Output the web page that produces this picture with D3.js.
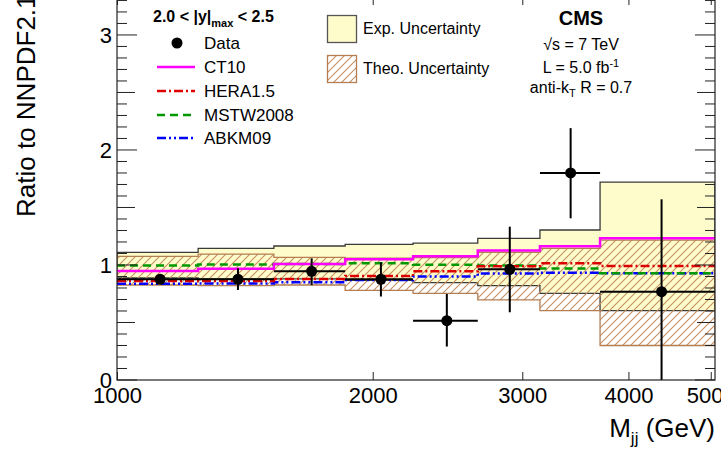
<!DOCTYPE html>
<html>
<head>
<meta charset="utf-8">
<script src="https://cdn.jsdelivr.net/npm/d3@7"></script>
<style>
  body { margin: 0; background: #fff; }
  svg { display: block; font-family: "Liberation Sans", Arial, Helvetica, sans-serif; }
</style>
</head>
<body>
<svg id="chart" width="721" height="454"></svg>
<script>
// ---------------- data ----------------
const binEdges = [1000, 1246, 1530, 1856, 2231, 2659, 3147, 3704, 5058];
const expUp    = [1.110, 1.145, 1.165, 1.180, 1.190, 1.232, 1.304, 1.720];
const expLow   = [0.887, 0.880, 0.880, 0.867, 0.846, 0.820, 0.754, 0.603];
const theoUp   = [1.075, 1.095, 1.067, 1.060, 1.065, 1.110, 1.145, 1.217];
const theoLow  = [0.826, 0.820, 0.826, 0.780, 0.754, 0.696, 0.603, 0.300];
const ct10     = [0.948, 0.968, 1.008, 1.050, 1.075, 1.125, 1.163, 1.232];
const hera15   = [0.861, 0.861, 0.878, 0.904, 0.945, 0.990, 1.015, 0.991];
const mstw2008 = [0.995, 1.005, 1.008, 1.015, 1.003, 0.995, 0.970, 0.928];
const abkm09   = [0.836, 0.840, 0.850, 0.870, 0.900, 0.925, 0.933, 0.928];
const dataX    = [1124, 1388, 1695, 2045, 2445, 2900, 3420, 4376];
const dataY    = [0.876, 0.876, 0.945, 0.876, 0.516, 0.962, 1.800, 0.768];
const dataErrLo= [0.035, 0.093, 0.120, 0.150, 0.225, 0.373, 0.394, 0.800];
const dataErrHi= [0.035, 0.095, 0.113, 0.147, 0.232, 0.371, 0.390, 0.803];
const xTickVals = [1000, 2000, 3000, 4000, 5000];
const yTickVals = [0, 1, 2, 3];

// ---------------- layout ----------------
const L = 117, R = 715, T = -3, B = 380;
const svg = d3.select("#chart");
const x = d3.scaleLog().domain([1000, 5058]).range([L, R]);
const y = d3.scaleLinear().domain([0, 3.33]).range([B, T]);

const defs = svg.append("defs");
defs.append("clipPath").attr("id", "plotclip")
  .append("rect").attr("x", L).attr("y", T).attr("width", R - L).attr("height", B - T);
const pat = defs.append("pattern").attr("id", "hatch")
  .attr("patternUnits", "userSpaceOnUse").attr("width", 8).attr("height", 8);
pat.append("path").attr("d", "M0,8 L8,0 M-2,2 L2,-2 M6,10 L10,6")
  .attr("stroke", "#c48f62").attr("stroke-width", 1.1);

const hatchStroke = "#b47e52";
const yellow = "#fffccc";

const plot = svg.append("g").attr("clip-path", "url(#plotclip)");

// step helpers
const stepPts = arr => arr.map((v, i) => ({e: binEdges[i], v})).concat([{e: binEdges[binEdges.length - 1], v: arr[arr.length - 1]}]);
const bandPts = (lo, hi) => lo.map((v, i) => ({e: binEdges[i], lo: v, hi: hi[i]}))
  .concat([{e: binEdges[binEdges.length - 1], lo: lo[lo.length - 1], hi: hi[hi.length - 1]}]);

const area = d3.area().x(d => x(d.e)).y0(d => y(d.lo)).y1(d => y(d.hi)).curve(d3.curveStepAfter);
const line = d3.line().x(d => x(d.e)).y(d => y(d.v)).curve(d3.curveStepAfter);

// Exp uncertainty band
plot.append("path").attr("d", area(bandPts(expLow, expUp)) + "Z")
  .attr("fill", yellow).attr("stroke", "#3a3a3a").attr("stroke-width", 1.3);
// Theo uncertainty band
plot.append("path").attr("d", area(bandPts(theoLow, theoUp)) + "Z")
  .attr("fill", "url(#hatch)").attr("stroke", hatchStroke).attr("stroke-width", 1.3);

// theory lines
const series = [
  {name: "CT10",     vals: ct10,     color: "#ff00ff", dash: null},
  {name: "HERA1.5",  vals: hera15,   color: "#dd0000", dash: "9,3,2,3"},
  {name: "MSTW2008", vals: mstw2008, color: "#009900", dash: "8,5"},
  {name: "ABKM09",   vals: abkm09,   color: "#0000ff", dash: "9,3,2,3,2,3"}
];
series.slice().reverse().forEach(s => {
  plot.append("path").attr("d", line(stepPts(s.vals)))
    .attr("fill", "none").attr("stroke", s.color).attr("stroke-width", 2.5)
    .attr("stroke-dasharray", s.dash);
});

// data points
const dg = plot.append("g");
dataX.forEach((xv, i) => {
  dg.append("line").attr("x1", x(binEdges[i])).attr("x2", x(binEdges[i + 1]))
    .attr("y1", y(dataY[i])).attr("y2", y(dataY[i]))
    .attr("stroke", "#000").attr("stroke-width", 2);
  dg.append("line").attr("x1", x(xv)).attr("x2", x(xv))
    .attr("y1", y(dataY[i] - dataErrLo[i])).attr("y2", y(dataY[i] + dataErrHi[i]))
    .attr("stroke", "#000").attr("stroke-width", 2);
  dg.append("circle").attr("cx", x(xv)).attr("cy", y(dataY[i])).attr("r", 5.5).attr("fill", "#000");
});

// ---------------- axes ----------------
const minorY = d3.range(0, 34).map(i => i / 10).filter(v => v <= 3.33);
const halfY = minorY.filter(v => Math.abs(v * 2 - Math.round(v * 2)) < 1e-6 && Math.abs(v - Math.round(v)) > 1e-6);
const tertY = minorY.filter(v => Math.abs(v * 2 - Math.round(v * 2)) > 1e-6);

function yTicks(g, xpos, dir) {
  const tick = (vals, len) => vals.forEach(v => {
    g.append("line").attr("x1", xpos).attr("x2", xpos + dir * len)
      .attr("y1", y(v)).attr("y2", y(v)).attr("stroke", "#222").attr("stroke-width", 1);
  });
  tick(yTickVals, 20); tick(halfY, 18); tick(tertY, 10);
}
const axg = svg.append("g");
yTicks(axg, L, 1);
yTicks(axg, R, -1);

// y labels via d3 axis
const yAxis = d3.axisLeft(y).tickValues(yTickVals).tickSize(0).tickPadding(5).tickFormat(d3.format("d"));
const yg = svg.append("g").attr("transform", `translate(${L},0)`).call(yAxis);
yg.select(".domain").remove();
yg.selectAll("text").attr("font-size", 22).attr("font-family", "Liberation Sans, Arial, sans-serif").attr("fill", "#000");

// x axis
const xAxis = d3.axisBottom(x).tickValues(xTickVals).tickSize(-8).tickPadding(7.5).tickFormat(d3.format("d"));
const xg = svg.append("g").attr("transform", `translate(0,${B})`).call(xAxis);
xg.select(".domain").remove();
xg.selectAll("line").attr("stroke", "#222");
xg.selectAll("text").attr("font-size", 22).attr("font-family", "Liberation Sans, Arial, sans-serif").attr("fill", "#000");
// top ticks
const xTop = d3.axisTop(x).tickValues(xTickVals).tickSize(-8).tickFormat("");
const xtg = svg.append("g").attr("transform", `translate(0,${T})`).call(xTop);
xtg.select(".domain").remove();
xtg.selectAll("line").attr("stroke", "#222");

// frame
svg.append("rect").attr("x", L).attr("y", T).attr("width", R - L).attr("height", B - T)
  .attr("fill", "none").attr("stroke", "#222").attr("stroke-width", 1.2);

// axis titles
svg.append("text").attr("transform", "translate(35,217) rotate(-90)")
  .attr("font-size", 26).attr("text-anchor", "start").text("Ratio to NNPDF2.1");
const xt = svg.append("text").attr("x", 715).attr("y", 437).attr("font-size", 26).attr("text-anchor", "end");
xt.append("tspan").text("M");
xt.append("tspan").attr("font-size", 17).attr("dy", 7).text("jj");
xt.append("tspan").attr("dy", -7).text(" (GeV)");

// ---------------- legend 1 ----------------
const hdr = svg.append("text").attr("x", 153).attr("y", 22).attr("font-size", 16).attr("font-weight", "bold");
hdr.append("tspan").text("2.0 < |y|");
hdr.append("tspan").attr("font-size", 11).attr("dy", 5).text("max");
hdr.append("tspan").attr("dy", -5).text(" < 2.5");

const legY = [43, 67, 91, 115, 138];
svg.append("circle").attr("cx", 177).attr("cy", legY[0]).attr("r", 5.5).attr("fill", "#000");
svg.append("text").attr("x", 204).attr("y", legY[0] + 6).attr("font-size", 17).text("Data");
series.forEach((s, i) => {
  svg.append("line").attr("x1", 157).attr("x2", 195).attr("y1", legY[i + 1]).attr("y2", legY[i + 1])
    .attr("stroke", s.color).attr("stroke-width", 2.5).attr("stroke-dasharray", s.dash);
  svg.append("text").attr("x", 204).attr("y", legY[i + 1] + 6).attr("font-size", 17).text(s.name);
});

// ---------------- legend 2 ----------------
svg.append("rect").attr("x", 327.5).attr("y", 15.5).attr("width", 29).attr("height", 27)
  .attr("fill", yellow).attr("stroke", "#555").attr("stroke-width", 1.3);
svg.append("text").attr("x", 363).attr("y", 34).attr("font-size", 16).text("Exp. Uncertainty");
svg.append("rect").attr("x", 327.5).attr("y", 55.5).attr("width", 29).attr("height", 27)
  .attr("fill", "url(#hatch)").attr("stroke", hatchStroke).attr("stroke-width", 1.3);
svg.append("text").attr("x", 363).attr("y", 74).attr("font-size", 16).text("Theo. Uncertainty");

// ---------------- CMS label ----------------
const cx = 581;
svg.append("text").attr("x", cx).attr("y", 25).attr("font-size", 20).attr("font-weight", "bold")
  .attr("text-anchor", "middle").text("CMS");
svg.append("text").attr("x", cx).attr("y", 50).attr("font-size", 16).attr("text-anchor", "middle").text("√s = 7 TeV");
const lt = svg.append("text").attr("x", cx).attr("y", 73).attr("font-size", 16).attr("text-anchor", "middle");
lt.append("tspan").text("L = 5.0 fb");
lt.append("tspan").attr("font-size", 11).attr("dy", -6).text("-1");
const at = svg.append("text").attr("x", cx).attr("y", 93).attr("font-size", 16).attr("text-anchor", "middle");
at.append("tspan").text("anti-k");
at.append("tspan").attr("font-size", 11).attr("dy", 4).text("T");
at.append("tspan").attr("dy", -4).text(" R = 0.7");
</script>
</body>
</html>
